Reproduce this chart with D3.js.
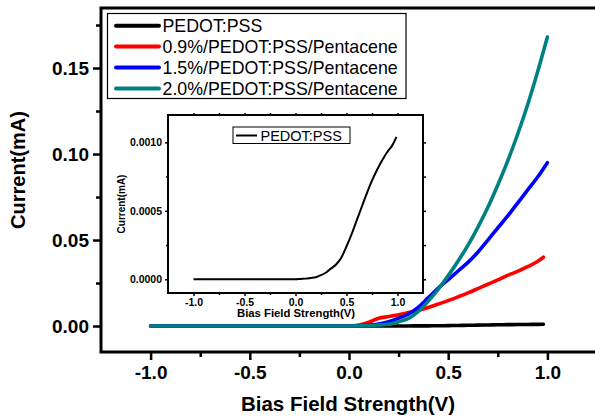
<!DOCTYPE html>
<html>
<head>
<meta charset="utf-8">
<script src="https://cdn.jsdelivr.net/npm/d3@7"></script>
<style>
  body { margin: 0; background: #fff; }
  svg { display: block; font-family: "Liberation Sans", Arial, sans-serif; }
</style>
</head>
<body>
<svg id="chart" width="595" height="419"></svg>
<script>
// bias (V) shared by the curves; red/black stop a bit short of 1.0
var bias      = [-1.0, -0.5, 0.0, 0.05, 0.10, 0.15, 0.20, 0.25, 0.30, 0.35, 0.40, 0.45, 0.50, 0.55, 0.60, 0.65, 0.70, 0.75, 0.80, 0.85, 0.90, 0.95, 1.0];
var biasShort = [-1.0, -0.5, 0.0, 0.05, 0.10, 0.15, 0.20, 0.25, 0.30, 0.35, 0.40, 0.45, 0.50, 0.55, 0.60, 0.65, 0.70, 0.75, 0.80, 0.85, 0.90, 0.95, 0.98];
var biasInset = [-1.0, -0.5, 0.0, 0.05, 0.10, 0.15, 0.20, 0.25, 0.30, 0.35, 0.40, 0.45, 0.50, 0.55, 0.60, 0.65, 0.70, 0.75, 0.80, 0.85, 0.90, 0.95, 0.99];

// current (mA)
var pedot   = [0, 0, 0, 0.000003, 0.000005, 0.00001, 0.000015, 0.00003, 0.00005, 0.00008, 0.00011, 0.00016, 0.00024, 0.00033, 0.00043, 0.00053, 0.00063, 0.00072, 0.00080, 0.00087, 0.00093, 0.00098, 0.00104];
var pent09  = [0, 0, 0, 0.0006, 0.0022, 0.0045, 0.0055, 0.0066, 0.0078, 0.0092, 0.0108, 0.0128, 0.0148, 0.0170, 0.0193, 0.0218, 0.0243, 0.0268, 0.0295, 0.0318, 0.0345, 0.0375, 0.0400];
var pent15  = [0, 0, 0, 0.0002, 0.0006, 0.0012, 0.0025, 0.0045, 0.0070, 0.0110, 0.0165, 0.0220, 0.0270, 0.0320, 0.0370, 0.0430, 0.0500, 0.0570, 0.0640, 0.0715, 0.0790, 0.0865, 0.0950];
var pent20  = [0, 0, 0, 0.0001, 0.0003, 0.0006, 0.0010, 0.0025, 0.0045, 0.0085, 0.0145, 0.0215, 0.0293, 0.0378, 0.0470, 0.0575, 0.0690, 0.0820, 0.0960, 0.1115, 0.1285, 0.1475, 0.1680];

var seriesNames  = ["PEDOT:PSS", "0.9%/PEDOT:PSS/Pentacene", "1.5%/PEDOT:PSS/Pentacene", "2.0%/PEDOT:PSS/Pentacene"];
var seriesColors = ["#000000", "#ff0000", "#0000ff", "#008080"];

var yTicks      = [0, 0.05, 0.10, 0.15];
var yMinorTicks = [0.025, 0.075, 0.125, 0.175];
var xTicks      = [-1.0, -0.5, 0.0, 0.5, 1.0];
var xMinorTicks = [-0.75, -0.25, 0.25, 0.75];
var insetYTicks      = [0, 0.0005, 0.0010];
var insetYMinorTicks = [0.00025, 0.00075];

var svg = d3.select("#chart");

var series = [
  {x: biasShort, y: pedot},
  {x: biasShort, y: pent09},
  {x: bias, y: pent15},
  {x: bias, y: pent20}
];

// ---- main plot ----
var x = d3.scaleLinear().domain([-1.25, 1.25]).range([101, 597]);
var y = d3.scaleLinear().domain([-0.0151, 0.1849]).range([352, 8]);
var fmt1 = function(d) { return d.toFixed(1); };
var fmt2 = function(d) { return d.toFixed(2); };

var line = d3.line()
  .x(function(d) { return x(d[0]); })
  .y(function(d) { return y(d[1]); })
  .curve(d3.curveMonotoneX);

series.forEach(function(s, i) {
  var pts = s.x.map(function(v, j) { return [v, s.y[j]]; });
  svg.append("path").datum(pts)
    .attr("d", line)
    .attr("fill", "none")
    .attr("stroke", seriesColors[i])
    .attr("stroke-width", 3.6)
    .attr("stroke-linecap", "round")
    .attr("stroke-linejoin", "round");
});

// frame
svg.append("rect").attr("x", 101).attr("y", 8).attr("width", 496).attr("height", 344)
  .attr("fill", "none").attr("stroke", "#000").attr("stroke-width", 3);

var styleAxis = function(g, size) {
  g.select(".domain").remove();
  g.selectAll(".tick line").attr("stroke", "#000").attr("stroke-width", 2.5);
  g.selectAll(".tick text").attr("font-size", size).attr("font-weight", "bold").attr("fill", "#000")
    .attr("font-family", "'Liberation Sans', Arial, sans-serif");
};

svg.append("g").attr("transform", "translate(101,0)")
  .call(d3.axisLeft(y).tickValues(yTicks).tickFormat(fmt2).tickSize(8).tickPadding(4))
  .call(styleAxis, 19);
svg.append("g").attr("transform", "translate(101,0)")
  .call(d3.axisLeft(y).tickValues(yMinorTicks).tickFormat("").tickSize(5))
  .call(styleAxis, 19);
svg.append("g").attr("transform", "translate(0,352)")
  .call(d3.axisBottom(x).tickValues(xTicks).tickFormat(fmt1).tickSize(8).tickPadding(6))
  .call(styleAxis, 19);
svg.append("g").attr("transform", "translate(0,352)")
  .call(d3.axisBottom(x).tickValues(xMinorTicks).tickFormat("").tickSize(5))
  .call(styleAxis, 19);

svg.append("text").attr("x", 348).attr("y", 411).attr("text-anchor", "middle")
  .attr("font-size", 20.5).attr("font-weight", "bold").text("Bias Field Strength(V)");
svg.append("text").attr("transform", "translate(25,170) rotate(-90)").attr("text-anchor", "middle")
  .attr("font-size", 20).attr("font-weight", "bold").text("Current(mA)");

// legend
var legend = svg.append("g");
legend.append("rect").attr("x", 107.5).attr("y", 13.5).attr("width", 298.5).attr("height", 85)
  .attr("fill", "#fff").attr("stroke", "#000").attr("stroke-width", 1.2);
seriesNames.forEach(function(name, i) {
  var ly = 25.7 + i * 20.9;
  legend.append("line").attr("x1", 116).attr("x2", 159).attr("y1", ly).attr("y2", ly)
    .attr("stroke", seriesColors[i]).attr("stroke-width", 4).attr("stroke-linecap", "round");
  legend.append("text").attr("x", 162.5).attr("y", ly + 6.3).attr("font-size", 17.8).text(name);
});

// ---- inset ----
var ix = d3.scaleLinear().domain([-1.25, 1.25]).range([168, 423]);
var iy = d3.scaleLinear().domain([-0.0001, 0.0012]).range([293, 115]);

svg.append("rect").attr("x", 168).attr("y", 115).attr("width", 255).attr("height", 178)
  .attr("fill", "#fff");

var iline = d3.line()
  .x(function(d) { return ix(d[0]); })
  .y(function(d) { return iy(d[1]); })
  .curve(d3.curveMonotoneX);
svg.append("path").datum(biasInset.map(function(v, j) { return [v, pedot[j]]; }))
  .attr("d", iline).attr("fill", "none").attr("stroke", "#000").attr("stroke-width", 2)
  .attr("stroke-linejoin", "round");

svg.append("rect").attr("x", 168).attr("y", 115).attr("width", 255).attr("height", 178)
  .attr("fill", "none").attr("stroke", "#000").attr("stroke-width", 2);

var styleInset = function(g) {
  g.select(".domain").remove();
  g.selectAll(".tick line").attr("stroke", "#000").attr("stroke-width", 1.5);
  g.selectAll(".tick text").attr("font-size", 10.5).attr("font-weight", "bold").attr("fill", "#000")
    .attr("font-family", "'Liberation Sans', Arial, sans-serif");
};
var fmt4 = function(d) { return d.toFixed(4); };

svg.append("g").attr("transform", "translate(168,0)")
  .call(d3.axisLeft(iy).tickValues(insetYTicks).tickFormat(fmt4).tickSize(3).tickPadding(3)).call(styleInset);
svg.append("g").attr("transform", "translate(168,0)")
  .call(d3.axisLeft(iy).tickValues(insetYMinorTicks).tickFormat("").tickSize(2)).call(styleInset);
svg.append("g").attr("transform", "translate(423,0)")
  .call(d3.axisRight(iy).tickValues(insetYTicks.concat(insetYMinorTicks)).tickFormat("").tickSize(3)).call(styleInset);
svg.append("g").attr("transform", "translate(0,293)")
  .call(d3.axisBottom(ix).tickValues(xTicks).tickFormat(fmt1).tickSize(3).tickPadding(3)).call(styleInset);
svg.append("g").attr("transform", "translate(0,293)")
  .call(d3.axisBottom(ix).tickValues(xMinorTicks).tickFormat("").tickSize(2)).call(styleInset);
svg.append("g").attr("transform", "translate(0,115)")
  .call(d3.axisTop(ix).tickValues(xTicks.concat(xMinorTicks)).tickFormat("").tickSize(2)).call(styleInset);

svg.append("text").attr("x", 296).attr("y", 317).attr("text-anchor", "middle")
  .attr("font-size", 11.3).attr("font-weight", "bold").text("Bias Field Strength(V)");
svg.append("text").attr("transform", "translate(125,204) rotate(-90)").attr("text-anchor", "middle")
  .attr("font-size", 10).attr("font-weight", "bold").text("Current(mA)");

// inset legend
svg.append("rect").attr("x", 233).attr("y", 127).attr("width", 117).attr("height", 16.5)
  .attr("fill", "#fff").attr("stroke", "#000").attr("stroke-width", 1);
svg.append("line").attr("x1", 236).attr("x2", 257).attr("y1", 135.5).attr("y2", 135.5)
  .attr("stroke", "#000").attr("stroke-width", 2);
svg.append("text").attr("x", 260.5).attr("y", 140.5).attr("font-size", 14.5).text(seriesNames[0]);
</script>
</body>
</html>
